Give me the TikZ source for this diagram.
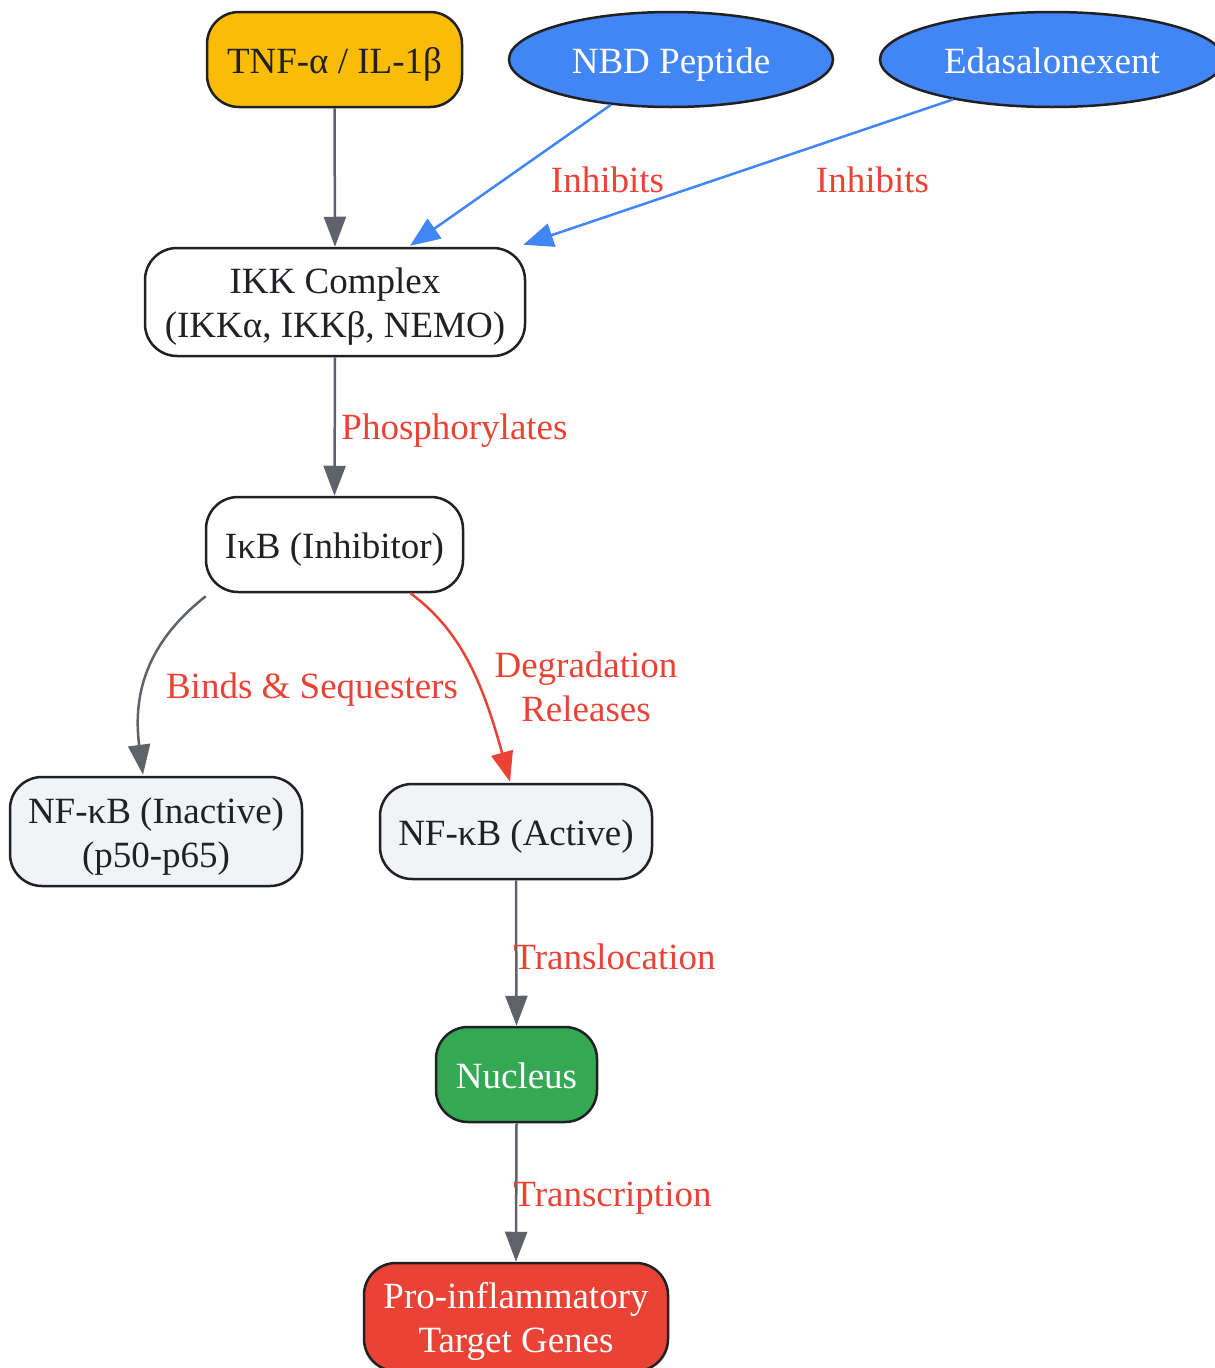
\documentclass[tikz,border=0pt]{standalone}
\usepackage{fontspec}
\setmainfont{Liberation Serif}
\usetikzlibrary{shapes.geometric,arrows.meta,calc}
\definecolor{cyellow}{HTML}{FBBC05}
\definecolor{cblue}{HTML}{4285F4}
\definecolor{cgreen}{HTML}{34A853}
\definecolor{cred}{HTML}{EA4335}
\definecolor{cgrayfill}{HTML}{F1F3F4}
\definecolor{cedge}{HTML}{5F6368}
\definecolor{ctext}{HTML}{202124}
\tikzset{
  base/.style={draw=ctext, line width=2.5pt, inner sep=0pt, align=center,
    font=\fontsize{37}{44}\selectfont, text=ctext},
  one/.style={text height=35pt, text depth=8pt},
  two/.style={text height=79pt, text depth=8pt},
  rbox/.style={base, rectangle, rounded corners=32pt},
  ell/.style={base, ellipse, fill=cblue, text=white},
  conn/.style={draw=cedge, line width=2.5pt, -{Triangle[length=30pt,width=22pt]}},
  inh/.style={draw=cblue, line width=2.5pt, -{Triangle[length=30pt,width=24pt]}},
  redc/.style={draw=cred, line width=2.5pt, -{Triangle[length=30pt,width=22pt]}},
  lbl/.style={text=cred, font=\fontsize{37}{44}\selectfont, align=center, inner sep=0pt}
}
\begin{document}
\begin{tikzpicture}[x=1pt,y=-1pt]
\useasboundingbox (0,0) rectangle (1215,1368);
% nodes
\node[rbox, one, fill=cyellow, minimum width=255pt, minimum height=95pt] (tnf) at (334.5,59.5) {TNF-α / IL-1β};
\node[ell, one, minimum width=324pt, minimum height=95pt] (nbd) at (671,59.5) {NBD Peptide};
\node[ell, one, minimum width=344pt, minimum height=95pt] (eda) at (1052,59.5) {Edasalonexent};
\node[rbox, two, fill=white, minimum width=380pt, minimum height=108pt] (ikk) at (335,302) {IKK Complex\\(IKKα, IKKβ, NEMO)};
\node[rbox, one, fill=white, minimum width=257pt, minimum height=95pt] (ikb) at (334.5,544.5) {IκB (Inhibitor)};
\node[rbox, two, fill=cgrayfill, minimum width=292pt, minimum height=109pt] (inact) at (156,831.5) {NF-κB (Inactive)\\(p50-p65)};
\node[rbox, one, fill=cgrayfill, minimum width=272pt, minimum height=95pt] (act) at (516,831.5) {NF-κB (Active)};
\node[rbox, one, fill=cgreen, text=white, minimum width=161pt, minimum height=95pt] (nuc) at (516.5,1074.5) {Nucleus};
\node[rbox, two, fill=cred, text=white, minimum width=304pt, minimum height=108pt] (pro) at (516,1317) {Pro-inflammatory\\Target Genes};
% connectors
\draw[conn] (tnf.south) -- (ikk.north);
\draw[inh] (nbd.217) -- ($(ikk.north)+(75,-1)$);
\draw[inh] (eda.202) -- ($(ikk.north east)+(-3,-2)$);
\draw[conn] (ikk.south) -- (ikb.north);
\draw[conn] ($(ikb.south west)+(1,3)$) .. controls (150,640) and (132,690) .. ($(inact.north)+(-13,-1)$);
\draw[redc] ($(ikb.south)+(76,0)$) .. controls (460,630) and (482,680) .. ($(act.north)+(-6,-1)$);
\draw[conn] (act.south) -- (nuc.north);
\draw[conn] (nuc.south) -- (pro.north);
% labels
\node[lbl, anchor=base] (l1) at (607.5,192) {Inhibits};
\node[lbl, anchor=base] (l2) at (872.5,192) {Inhibits};
\node[lbl, anchor=base] (l3) at (454.5,439) {Phosphorylates};
\node[lbl, anchor=base] (l4) at (312,698) {Binds \& Sequesters};
\node[lbl, two] (l5) at (586,685.5) {Degradation\\Releases};
\node[lbl, anchor=base] (l6) at (614.5,969) {Translocation};
\node[lbl, anchor=base] (l7) at (612.5,1206) {Transcription};
\end{tikzpicture}
\end{document}
